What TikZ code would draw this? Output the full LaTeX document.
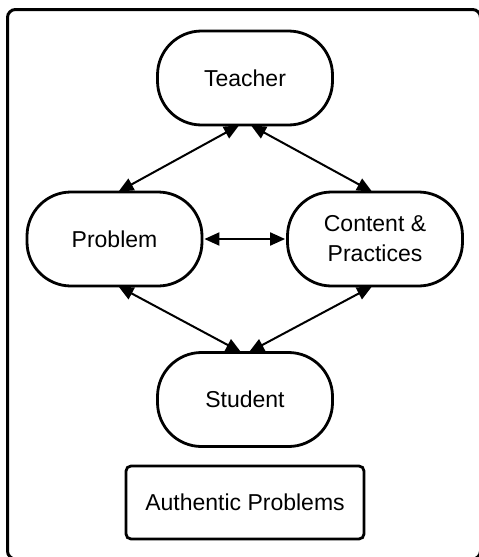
\documentclass[tikz,border=0pt]{standalone}
\usepackage{fontspec}
\setmainfont{Liberation Sans}
\usetikzlibrary{arrows.meta}
\begin{document}
\begin{tikzpicture}[x=1pt,y=-1pt,
  stadium/.style={draw, line width=2.8pt, rounded corners=44pt, minimum width=175pt, minimum height=94pt, inner sep=0pt, align=center, font=\fontsize{23}{30}\selectfont},
  plainbox/.style={draw, line width=2.8pt, rounded corners=5pt, minimum width=238pt, minimum height=73pt, inner sep=0pt, font=\fontsize{23}{30}\selectfont},
  arr/.style={line width=2pt, {Triangle[length=15pt,width=13pt]}-{Triangle[length=15pt,width=13pt]}}]
\useasboundingbox (0,0) rectangle (479,557);
\fill[white] (0,0) rectangle (479,557);
\draw[line width=3pt, rounded corners=8pt] (7.5,9.5) rectangle (480.5,559);
\node[stadium] (teacher) at (245,78) {Teacher};
\node[stadium] (problem) at (114.5,239) {Problem};
\node[stadium] (content) at (375,239) {Content \&\\Practices};
\node[stadium] (student) at (245,399.5) {Student};
\node[plainbox] (auth) at (245,502.5) {Authentic Problems};
\draw[arr] ([xshift=4pt,yshift=-1pt]problem.north) -- ([xshift=-6pt,yshift=1pt]teacher.south);
\draw[arr] ([xshift=6pt,yshift=1pt]teacher.south) -- ([xshift=-3pt,yshift=-1pt]content.north);
\draw[arr] ([xshift=1pt]problem.east) -- ([xshift=-1pt]content.west);
\draw[arr] ([xshift=4pt,yshift=1pt]problem.south) -- ([xshift=-4pt,yshift=-1pt]student.north);
\draw[arr] ([xshift=-3pt,yshift=1pt]content.south) -- ([xshift=4pt,yshift=-1pt]student.north);
\end{tikzpicture}
\end{document}
